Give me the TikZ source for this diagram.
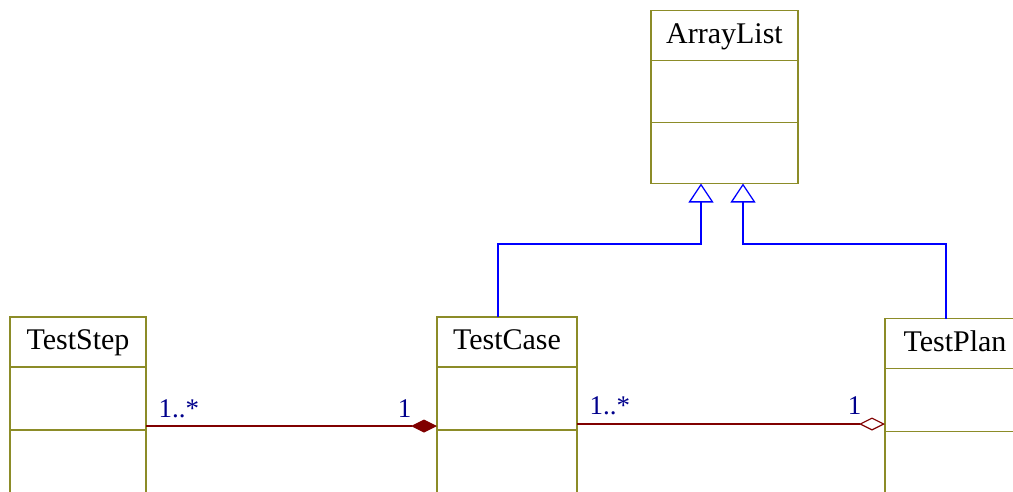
\documentclass[tikz,border=0pt]{standalone}
\usepackage{fontspec}
\setmainfont{Liberation Serif}
\usepackage{tikz}
\usetikzlibrary{shapes,arrows.meta,positioning}
\definecolor{classolive}{RGB}{140,140,40}
\definecolor{assocred}{RGB}{128,0,0}
\definecolor{genblue}{RGB}{0,0,255}
\definecolor{multnavy}{RGB}{0,0,140}
\tikzset{
  classname/.style={draw=classolive, line width=1.3pt, fill=white,
    minimum width=#1, minimum height=50pt, inner sep=0pt, outer sep=0pt,
    text height=21pt, text depth=6pt, font=\fontsize{30}{36}\selectfont},
  compart/.style={draw=classolive, line width=1.3pt, fill=white,
    minimum width=#1, inner sep=0pt, outer sep=0pt},
  gen/.style={draw=genblue, line width=1.3pt,
    -{Triangle[open, length=19pt, width=25pt]}},
  assoc/.style={draw=assocred, line width=1.2pt},
  mult/.style={text=multnavy, inner sep=0pt, font=\fontsize{27}{32}\selectfont},
}
\begin{document}
\begin{tikzpicture}[x=1pt,y=-1pt]
\useasboundingbox (0,0) rectangle (1013,491);

\node[classname=147pt] (al) at (724.5,35.5) {ArrayList};
\node[compart=147pt, minimum height=62pt, below=0pt of al] (al-1) {};
\node[compart=147pt, minimum height=61pt, below=0pt of al-1] (al-2) {};

\node[classname=136pt] (ts) at (78,342) {TestStep};
\node[compart=136pt, minimum height=63pt, below=0pt of ts] (ts-1) {};
\node[compart=136pt, minimum height=67pt, below=0pt of ts-1] (ts-2) {};

\node[classname=140pt] (tc) at (507,342) {TestCase};
\node[compart=140pt, minimum height=63pt, below=0pt of tc] (tc-1) {};
\node[compart=140pt, minimum height=67pt, below=0pt of tc-1] (tc-2) {};

\node[classname=140pt] (tp) at (955,343.5) {TestPlan};
\node[compart=140pt, minimum height=63pt, below=0pt of tp] (tp-1) {};
\node[compart=140pt, minimum height=65pt, below=0pt of tp-1] (tp-2) {};

% inheritance
\coordinate (bus) at (0,244);
\draw[gen]
  ([xshift=-9pt]tc.north) -- ([xshift=-9pt]tc.north |- bus)
  -| ([xshift=-23.5pt]al-2.south);
\draw[gen]
  ([xshift=-9pt]tp.north) -- ([xshift=-9pt]tp.north |- bus)
  -| ([xshift=18.5pt]al-2.south);

% associations
\coordinate (link1) at (0,426);
\coordinate (link2) at (0,424);
\draw[assoc, -{Diamond[length=26pt, width=13pt, fill=assocred]}]
  (ts-1.east |- link1) -- (tc-1.west |- link1)
  node[mult, pos=0, anchor=base west, shift={(12pt,9pt)}] (ts-many) {1..*}
  node[mult, pos=1, anchor=base east, shift={(-25pt,9pt)}] (tc-one) {1};
\draw[assoc, -{Diamond[open, length=26pt, width=13pt]}]
  (tc-1.east |- link2) -- (tp-1.west |- link2)
  node[mult, pos=0, anchor=base west, shift={(12pt,10pt)}] (tc-many) {1..*}
  node[mult, pos=1, anchor=base east, shift={(-23pt,10pt)}] (tp-one) {1};
\end{tikzpicture}
\end{document}
